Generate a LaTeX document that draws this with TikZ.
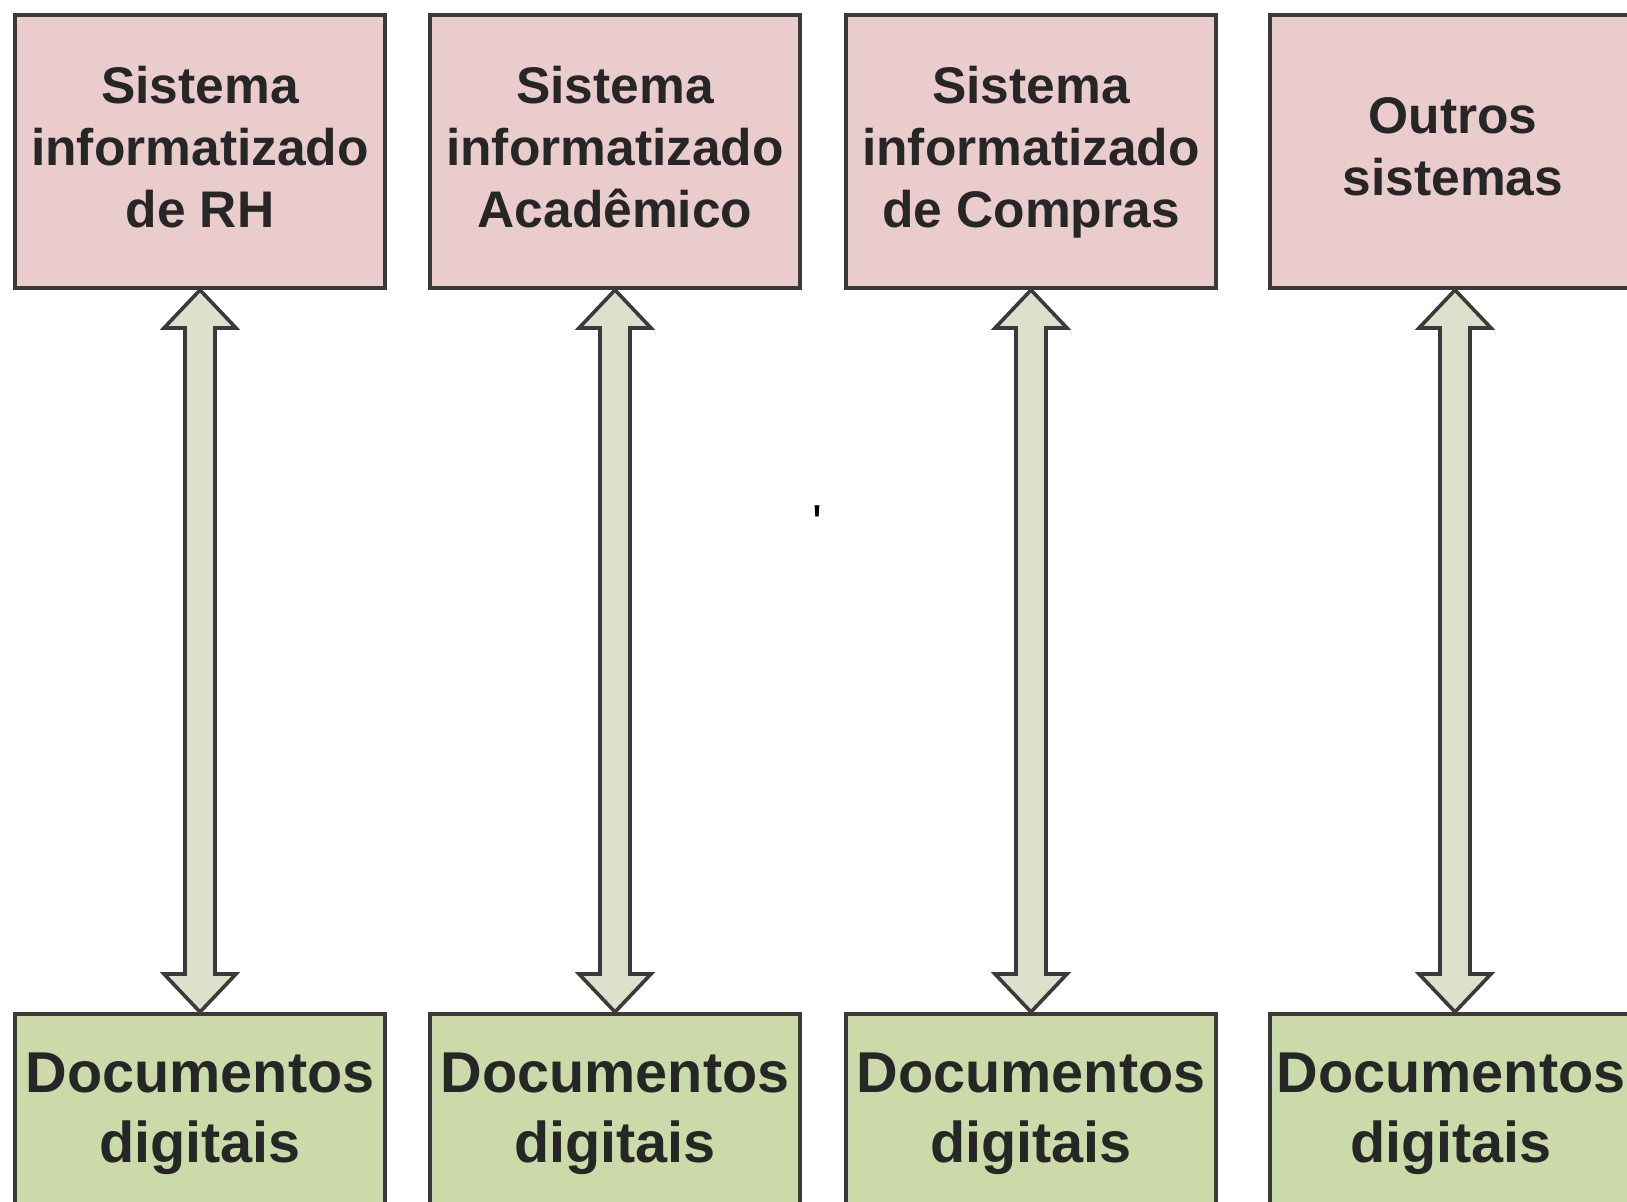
\documentclass[tikz,border=0pt]{standalone}
\usepackage{fontspec}
\setmainfont{Liberation Sans}
\newfontfamily\tickfont[Ligatures=TeXOff]{Liberation Sans}
\usetikzlibrary{calc}
\definecolor{sysfill}{HTML}{EBCCCC}
\definecolor{docfill}{HTML}{CCDAAA}
\definecolor{linkfill}{HTML}{DCE1CB}
\definecolor{edgegray}{HTML}{3A3A3A}
\begin{document}
\begin{tikzpicture}[x=0.5pt, y=-0.5pt,
  sysbox/.style={draw=edgegray, fill=sysfill, line width=2pt, minimum width=185pt, minimum height=136.5pt, align=center, text=black!85, font={\fontsize{25.75}{31}\selectfont\bfseries}},
  docbox/.style={draw=edgegray, fill=docfill, line width=2pt, minimum width=185pt, minimum height=200pt, anchor=north},
  doctext/.style={align=center, text=black!85, font={\fontsize{28.8}{35}\selectfont\bfseries}},
  linkarrow/.style={draw=edgegray, fill=linkfill, line width=1.8pt, line join=miter}]
 \useasboundingbox (0,0) rectangle (1627,1202);
 \clip (0,0) rectangle (1627,1202);

 \node[sysbox] (rh) at (200,151.5) {};
 \node[sysbox] (acad) at (615,151.5) {};
 \node[sysbox] (compras) at (1031,151.5) {};
 \node[sysbox] (outros) at (1455,151.5) {};
 \node[sysbox, draw=none, fill=none] (txtsysrh) at (200,156) {Sistema\\informatizado\\de RH\strut};
 \node[sysbox, draw=none, fill=none] (txtsysacad) at (615,156) {Sistema\\informatizado\\Acadêmico\strut};
 \node[sysbox, draw=none, fill=none] (txtsyscompras) at (1031,156) {Sistema\\informatizado\\de Compras\strut};
 \node[sysbox, draw=none, fill=none] (txtsysoutros) at (1453,156) {Outros\\sistemas\strut};

 \node[docbox] (docrh) at (200,1012) {};
 \node[docbox] (docacad) at (615,1012) {};
 \node[docbox] (doccompras) at (1031,1012) {};
 \node[docbox] (docoutros) at (1455,1012) {};
 \node[doctext] (txtrh) at (200,1114) {Documentos\\digitais};
 \node[doctext] (txtacad) at (615,1114) {Documentos\\digitais};
 \node[doctext] (txtcompras) at (1031,1114) {Documentos\\digitais};
 \node[doctext] (txtoutros) at (1451,1114) {Documentos\\digitais};

 \foreach \s/\d in {rh/docrh, acad/docacad, compras/doccompras, outros/docoutros}
  \draw[linkarrow] (\s.south) -- ++(-36,38) -- ++(21,0) -- ($(\d.north)+(-15,-38)$) -- ++(-21,0) -- (\d.north) -- ++(36,-38) -- ++(-21,0) -- ($(\s.south)+(15,38)$) -- ++(21,0) -- cycle;

 \node[inner sep=0pt, font={\tickfont\fontsize{26}{30}\selectfont}] (tick) at (817,524) {'};
\end{tikzpicture}
\end{document}
